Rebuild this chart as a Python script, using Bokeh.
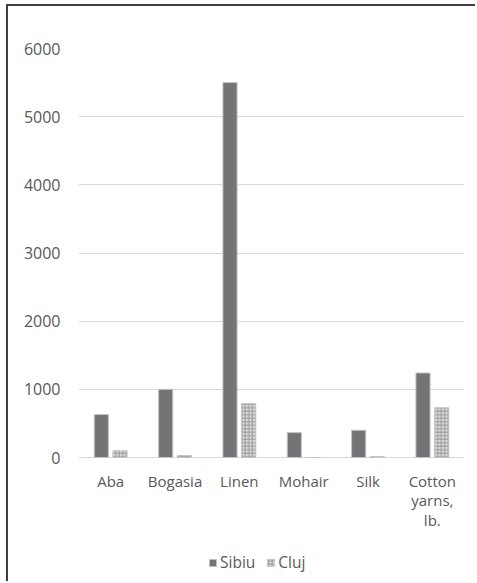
from bokeh.plotting import figure
from bokeh.models import ColumnDataSource, Legend, LegendItem, FactorRange
from bokeh.transform import dodge
from bokeh.core.properties import value
from bokeh.embed import file_html
from bokeh.resources import INLINE

categories = ["Aba", "Bogasia", "Linen", "Mohair", "Silk", "Cotton yarns, lb."]
cat_labels = ["Aba", "Bogasia", "Linen", "Mohair", "Silk", "Cotton\nyarns,\nlb."]
sibiu = [630, 1000, 5500, 365, 400, 1240]
cluj = [100, 30, 790, 0, 15, 730]
y_ticks = [0, 1000, 2000, 3000, 4000, 5000, 6000]

FONT = "Open Sans"
TXT = "#595959"

# frame extends below zero so that category labels and legend can sit inside it
plot_px = 409.0      # pixels between 0 and 6000
below_px = 126.0     # pixels between 0 line and bottom of the chart
y_top = 6000
y_bottom = -y_top * below_px / plot_px

src = ColumnDataSource(data=dict(cat=categories, sibiu=sibiu, cluj=cluj))
lab_src = ColumnDataSource(data=dict(cat=categories, lab=cat_labels, y=[0] * len(categories)))

p = figure(x_range=FactorRange(*categories), y_range=(y_bottom, y_top),
           width=469, height=577, output_backend="svg", toolbar_location=None,
           min_border_left=70, min_border_right=13, min_border_top=42, min_border_bottom=0,
           margin=(4, 0, 0, 6),
           styles={"border-left": "2px solid #404040", "border-top": "2px solid #404040"})

r1 = p.vbar(x=dodge("cat", -0.145, range=p.x_range), top="sibiu", width=0.22, source=src,
            fill_color="#747477", line_color="#c4c4c4", line_width=1)
r2 = p.vbar(x=dodge("cat", 0.145, range=p.x_range), top="cluj", width=0.22, source=src,
            fill_color="#dcdcdc", line_color="#c4c4c4", line_width=1,
            hatch_pattern="+", hatch_color="#999999", hatch_scale=3.5, hatch_weight=1)

p.text(x="cat", y="y", text="lab", source=lab_src, y_offset=13,
       text_align="center", text_baseline="top", text_font=value(FONT),
       text_font_size="15px", text_color=TXT, text_line_height=0.98)

p.outline_line_color = None
p.xgrid.grid_line_color = None
p.ygrid.grid_line_color = "#d9d9d9"
p.ygrid.grid_line_width = 1
p.yaxis.ticker = y_ticks
p.x_range.range_padding = 0
p.xaxis.visible = False
ax = p.yaxis[0]
ax.axis_line_color = None
ax.major_tick_line_color = None
ax.minor_tick_line_color = None
ax.major_label_text_font = FONT
ax.major_label_text_font_size = "16px"
ax.major_label_text_color = TXT
ax.major_label_standoff = 12

legend = Legend(items=[LegendItem(label="Sibiu", renderers=[r1]),
                       LegendItem(label="Cluj", renderers=[r2])],
                orientation="horizontal", location=(130, 10),
                border_line_color=None, background_fill_alpha=0,
                label_text_font=FONT, label_text_font_size="15.5px", label_text_color=TXT,
                glyph_width=9, glyph_height=9, spacing=11, label_standoff=3,
                margin=0, padding=4)
p.add_layout(legend, "center")

open("out.html", "w").write(file_html(p, INLINE))
